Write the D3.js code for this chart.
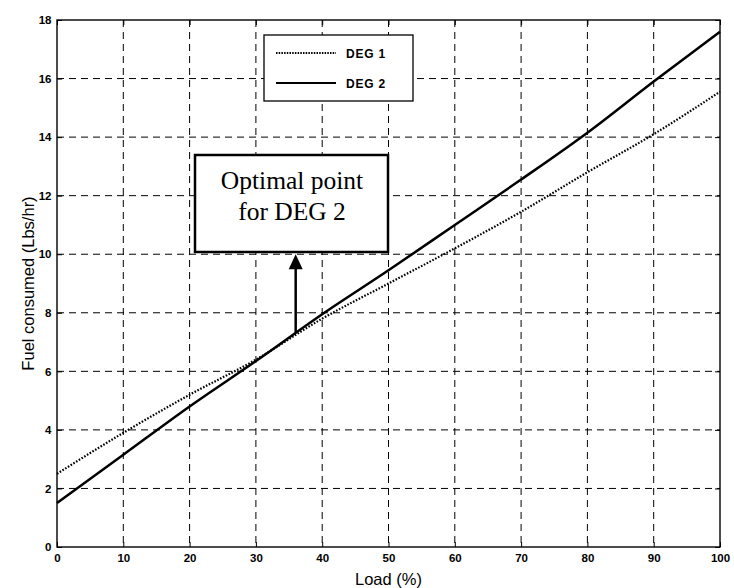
<!DOCTYPE html>
<html><head><meta charset="utf-8">
<script src="https://cdn.jsdelivr.net/npm/d3@7"></script>
<style>
body{margin:0;background:#fff;}
svg{display:block;}
.tick text{font-family:"Liberation Sans",Arial,sans-serif;font-weight:bold;font-size:11.5px;fill:#000;}
</style>
</head><body>
<svg id="c" width="734" height="588"></svg>
<script>
const loads = [0,10,20,30,40,50,60,70,80,90,100];
const deg1 = [2.5,3.9,5.2,6.4,7.8,9.0,10.2,11.45,12.8,14.1,15.55];
const deg2 = [1.5,3.15,4.8,6.35,7.95,9.45,11.0,12.55,14.15,15.9,17.6];
const xTicks = [0,10,20,30,40,50,60,70,80,90,100];
const yTicks = [0,2,4,6,8,10,12,14,16,18];
const seriesNames = ["DEG 1","DEG 2"];
const optimalLoad = 36, optimalFuel = 7.3, annotationTop = 10;
const annotationLines = ["Optimal point","for DEG 2"];

const svg = d3.select("#c");
const m = {l:57, r:720, t:20, b:547};
const x = d3.scaleLinear().domain([0,100]).range([m.l,m.r]);
const y = d3.scaleLinear().domain([0,18]).range([m.b,m.t]);

// grid
const g = svg.append("g");
g.selectAll(".vg").data(xTicks.slice(1,-1)).join("line")
  .attr("x1",d=>x(d)).attr("x2",d=>x(d)).attr("y1",m.t).attr("y2",m.b)
  .attr("stroke","#000").attr("stroke-width",1).attr("stroke-dasharray","7,5");
g.selectAll(".hg").data(yTicks.slice(1,-1)).join("line")
  .attr("y1",d=>y(d)).attr("y2",d=>y(d)).attr("x1",m.l).attr("x2",m.r)
  .attr("stroke","#000").attr("stroke-width",1).attr("stroke-dasharray","7,5");

// axes
const xa = svg.append("g").attr("transform",`translate(0,${m.b})`)
  .call(d3.axisBottom(x).tickValues(xTicks).tickSize(-5).tickPadding(6.5));
const xt = svg.append("g").attr("transform",`translate(0,${m.t})`)
  .call(d3.axisTop(x).tickValues(xTicks).tickSize(-5).tickFormat(""));
const ya = svg.append("g").attr("transform",`translate(${m.l},0)`)
  .call(d3.axisLeft(y).tickValues(yTicks).tickSize(-5).tickPadding(5.5));
const yr = svg.append("g").attr("transform",`translate(${m.r},0)`)
  .call(d3.axisRight(y).tickValues(yTicks).tickSize(-5).tickFormat(""));
[xa,xt,ya,yr].forEach(a=>{a.select(".domain").remove();a.selectAll("line").attr("stroke","#000");});
svg.append("rect").attr("x",m.l).attr("y",m.t).attr("width",m.r-m.l).attr("height",m.b-m.t)
  .attr("fill","none").attr("stroke","#000").attr("stroke-width",1.4);

// lines
const line = d3.line().x((d,i)=>x(loads[i])).y(d=>y(d)).curve(d3.curveMonotoneX);
svg.append("path").attr("d",line(deg1)).attr("fill","none").attr("stroke","#000")
  .attr("stroke-width",2.2).attr("stroke-dasharray","1.6,1.6");
svg.append("path").attr("d",line(deg2)).attr("fill","none").attr("stroke","#000")
  .attr("stroke-width",2.5);

// legend
const lg = svg.append("g");
lg.append("rect").attr("x",264).attr("y",35).attr("width",149).attr("height",66)
  .attr("fill","#fff").attr("stroke","#000").attr("stroke-width",1.3);
seriesNames.forEach((n,i)=>{
  const yy = 53 + i*30;
  lg.append("line").attr("x1",276).attr("x2",336).attr("y1",yy).attr("y2",yy)
    .attr("stroke","#000").attr("stroke-width",i==0?2:1.8)
    .attr("stroke-dasharray",i==0?"1.5,1.2":null);
  lg.append("text").attr("x",346).attr("y",yy+4.5).text(n)
    .attr("font-family","Liberation Sans,Arial,sans-serif").attr("font-weight","bold")
    .attr("font-size","12px").attr("letter-spacing","0.8px");
});

// annotation
const ag = svg.append("g");
ag.append("rect").attr("x",195).attr("y",155).attr("width",193).attr("height",97)
  .attr("fill","#fff").attr("stroke","#000").attr("stroke-width",2.5);
annotationLines.forEach((t,i)=>{
  ag.append("text").attr("x",292).attr("y",189+i*31).attr("text-anchor","middle")
    .attr("font-family","Liberation Serif,Times New Roman,serif").attr("font-size","25.5px").text(t);
});
const ax = x(optimalLoad);
ag.append("line").attr("x1",ax).attr("x2",ax).attr("y1",y(optimalFuel)).attr("y2",y(annotationTop)+14)
  .attr("stroke","#000").attr("stroke-width",2.5);
ag.append("path").attr("d",`M${ax},${y(annotationTop)} L${ax-7},${y(annotationTop)+15} L${ax+7},${y(annotationTop)+15} Z`)
  .attr("fill","#000");

// axis titles
svg.append("text").attr("x",(m.l+m.r)/2).attr("y",585).attr("text-anchor","middle")
  .attr("font-family","Liberation Sans,Arial,sans-serif").attr("font-size","16.5px").text("Load (%)");
svg.append("text").attr("transform",`translate(34,${(m.t+m.b)/2}) rotate(-90)`).attr("text-anchor","middle")
  .attr("font-family","Liberation Sans,Arial,sans-serif").attr("font-size","16.5px").text("Fuel consumed (Lbs/hr)");
</script>
</body></html>
